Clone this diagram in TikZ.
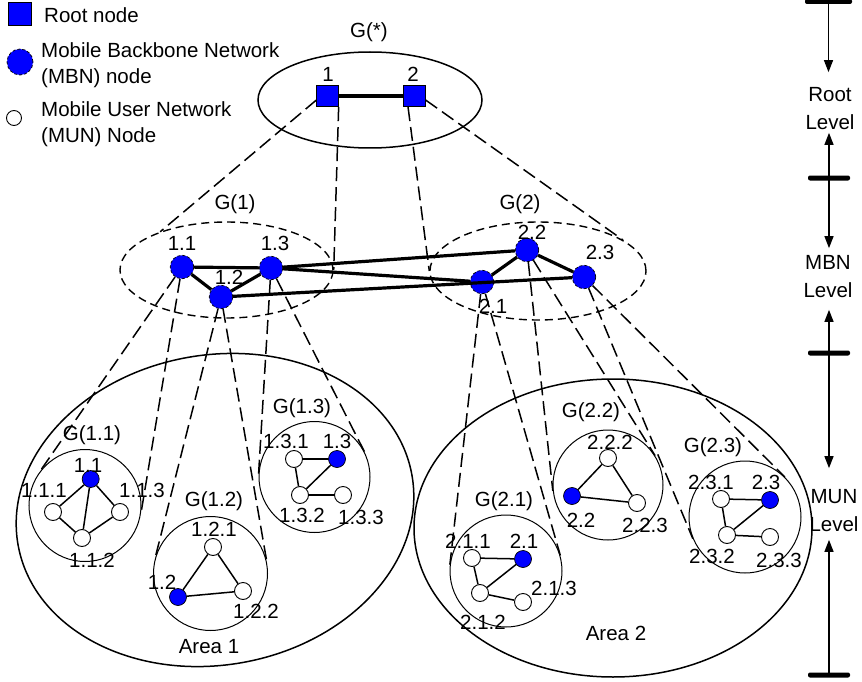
\documentclass[tikz,border=0pt]{standalone}
\usepackage{fontspec}
\setmainfont{Liberation Sans}
\usepackage{tikz}
\usetikzlibrary{shapes.geometric, arrows.meta, calc}
\tikzstyle{lbl} = [inner sep=0pt, font=\fontsize{20.5}{26}\selectfont]
\tikzstyle{lvl} = [inner sep=0pt, align=center, font=\fontsize{20.5}{28}\selectfont]
\tikzstyle{rootnode} = [draw, fill=blue, minimum size=21.5pt, inner sep=0pt, line width=0.8pt]
\tikzstyle{mbn} = [circle, draw, densely dashed, fill=blue, minimum size=23.5pt,
    inner sep=0pt, line width=0.7pt]
\tikzstyle{bnode} = [circle, draw, fill=blue, minimum size=17pt, inner sep=0pt, line width=0.7pt]
\tikzstyle{unode} = [circle, draw, fill=white, minimum size=17pt, inner sep=0pt, line width=0.9pt]
\tikzstyle{group} = [ellipse, draw, dash pattern=on 8pt off 5pt, line width=1.4pt, inner sep=0pt]
\tikzstyle{region} = [ellipse, draw, line width=1.5pt, inner sep=0pt]
\tikzstyle{local} = [circle, draw, line width=1pt, inner sep=0pt]
\tikzstyle{cone} = [dash pattern=on 14pt off 6pt, line width=1.5pt]
\tikzstyle{bbl} = [line width=3.2pt]
\tikzstyle{ubl} = [line width=1.5pt]
\tikzstyle{levelbar} = [fill, rounded corners=2pt, minimum width=42pt, minimum height=5pt, inner sep=0pt]
\tikzstyle{lvarr} = [-{Triangle[length=12pt, width=9pt]}, line width=1.3pt]

\begin{document}
\begin{tikzpicture}[x=1pt, y=-1pt]
  \useasboundingbox (0,0) rectangle (862,682);

  % Legend
  \node[rootnode, minimum size=23pt] (keyroot) at (19.5,14) {};
  \node[lbl, anchor=west] (keyroottxt) at (44,15.5) {Root node};
  \node[mbn, minimum size=26pt] (keymbn) at (20,62) {};
  \node[lbl, anchor=west, align=left] (keymbntxt) at (41,65.5) {Mobile Backbone Network\\(MBN) node};
  \node[unode, minimum size=15pt] (keymun) at (14,118) {};
  \node[lbl, anchor=west, align=left] (keymuntxt) at (41,124) {Mobile User Network\\(MUN) Node};

  % Areas
  \node[region, rotate=10, minimum width=400pt, minimum height=310pt] (area1) at (215,510) {};
  \node[region, minimum width=398pt, minimum height=298pt] (area2) at (613,528) {};
  \node[lbl] (area1lbl) at (209,647) {Area 1};
  \node[lbl] (area2lbl) at (616,633) {Area 2};

  % Root level
  \node[region, minimum width=224pt, minimum height=96pt] (gstar) at (370,100) {};
  \node[lbl] (gstarlbl) at (369,32) {G(*)};
  \node[rootnode] (r1) at (327.5,96) {};
  \node[rootnode] (r2) at (414.5,96) {};
  \node[lbl] (r1lbl) at (328,74) {1};
  \node[lbl] (r2lbl) at (413,74) {2};
  \draw[bbl] (r1) -- (r2);

  % MBN level
  \node[group, minimum width=213pt, minimum height=96pt] (g1) at (226.5,270) {};
  \node[group, minimum width=216pt, minimum height=98pt] (g2) at (538,271) {};
  \node[lbl] (g1lbl) at (235,204) {G(1)};
  \node[lbl] (g2lbl) at (520,204) {G(2)};
  \node[mbn] (m11) at (182,267) {};
  \node[mbn] (m12) at (221,297) {};
  \node[mbn] (m13) at (271,268) {};
  \node[mbn] (m21) at (482,282) {};
  \node[mbn] (m22) at (527,250) {};
  \node[mbn] (m23) at (584,277) {};
  \node[lbl] (m11lbl) at (182,243) {1.1};
  \node[lbl] (m12lbl) at (229,277) {1.2};
  \node[lbl] (m13lbl) at (275,243) {1.3};
  \node[lbl] (m21lbl) at (493,306) {2.1};
  \node[lbl] (m22lbl) at (532,232) {2.2};
  \node[lbl] (m23lbl) at (600,252) {2.3};

  % Root to MBN groups
  \draw[cone] (r1.200) -- (g1.150);
  \draw[cone] (r1.south east) -- (g1.east);
  \draw[cone] (r2.240) -- (g2.west);
  \draw[cone] (r2.340) -- (g2.20);

  % Backbone links
  \draw[bbl] (m11) -- (m13);
  \draw[bbl] (m11) -- (m12);
  \draw[bbl] (m12) -- (m13);
  \draw[bbl] (m13) -- (m22);
  \draw[bbl] (m13) -- (m21);
  \draw[bbl] (m12) -- (m23);
  \draw[bbl] (m21) -- (m22);
  \draw[bbl] (m22) -- (m23);

  % MUN level: local graphs
  \node[local, minimum size=112pt] (g11) at (85,505.5) {};
  \node[local, minimum size=114pt] (g12) at (210.5,573.5) {};
  \node[local, minimum size=111pt] (g13) at (314.5,477) {};
  \node[local, minimum size=112pt] (g21) at (506,571) {};
  \node[local, minimum size=110pt] (g22) at (608,485) {};
  \node[local, minimum size=112pt] (g23) at (745,517) {};
  \node[lbl] (g11lbl) at (92,435) {G(1.1)};
  \node[lbl] (g12lbl) at (214,501) {G(1.2)};
  \node[lbl] (g13lbl) at (302,408) {G(1.3)};
  \node[lbl] (g21lbl) at (504,501) {G(2.1)};
  \node[lbl] (g22lbl) at (591,412) {G(2.2)};
  \node[lbl] (g23lbl) at (713,447) {G(2.3)};

  % MBN nodes to their local graphs
  \draw[cone] (m11) -- (tangent cs:node=g11, point={(m11)}, solution=1);
  \draw[cone] (m11) -- (tangent cs:node=g11, point={(m11)}, solution=2);
  \draw[cone] (m12) -- (tangent cs:node=g12, point={(m12)}, solution=1);
  \draw[cone] (m12) -- (tangent cs:node=g12, point={(m12)}, solution=2);
  \draw[cone] (m13) -- (tangent cs:node=g13, point={(m13)}, solution=1);
  \draw[cone] (m13) -- (tangent cs:node=g13, point={(m13)}, solution=2);
  \draw[cone] (m21) -- (tangent cs:node=g21, point={(m21)}, solution=1);
  \draw[cone] (m21) -- (tangent cs:node=g21, point={(m21)}, solution=2);
  \draw[cone] (m22) -- (tangent cs:node=g22, point={(m22)}, solution=1);
  \draw[cone] (m22) -- (tangent cs:node=g22, point={(m22)}, solution=2);
  \draw[cone] (m23) -- (tangent cs:node=g23, point={(m23)}, solution=1);
  \draw[cone] (m23) -- (tangent cs:node=g23, point={(m23)}, solution=2);

  % G(1.1)
  \node[bnode] (s11) at (90.7,479) {};
  \node[unode] (s111) at (53,512) {};
  \node[unode] (s113) at (120,512) {};
  \node[unode] (s112) at (82,538) {};
  \draw[ubl] (s11) -- (s111);
  \draw[ubl] (s11) -- (s113);
  \draw[ubl] (s11) -- (s112);
  \draw[ubl] (s111) -- (s112);
  \draw[ubl] (s113) -- (s112);
  \node[lbl] (s11lbl) at (88,465) {1.1};
  \node[lbl] (s111lbl) at (44,490) {1.1.1};
  \node[lbl] (s113lbl) at (142,490) {1.1.3};
  \node[lbl] (s112lbl) at (92,560) {1.1.2};

  % G(1.2)
  \node[bnode] (s12) at (178,597) {};
  \node[unode] (s121) at (213,547) {};
  \node[unode] (s122) at (243,591) {};
  \draw[ubl] (s121) -- (s12);
  \draw[ubl] (s121) -- (s122);
  \draw[ubl] (s12) -- (s122);
  \node[lbl] (s12lbl) at (162,582) {1.2};
  \node[lbl] (s121lbl) at (214,529) {1.2.1};
  \node[lbl] (s122lbl) at (256,611) {1.2.2};

  % G(1.3)
  \node[bnode] (s13) at (337,459) {};
  \node[unode] (s131) at (294,459) {};
  \node[unode] (s132) at (300,495) {};
  \node[unode] (s133) at (343,495) {};
  \draw[ubl] (s131) -- (s13);
  \draw[ubl] (s131) -- (s132);
  \draw[ubl] (s132) -- (s13);
  \draw[ubl] (s132) -- (s133);
  \node[lbl] (s13lbl) at (337,441) {1.3};
  \node[lbl] (s131lbl) at (286,441) {1.3.1};
  \node[lbl] (s132lbl) at (302,515) {1.3.2};
  \node[lbl] (s133lbl) at (361,517) {1.3.3};

  % G(2.1)
  \node[bnode] (s21) at (523,559) {};
  \node[unode] (s211) at (472,558) {};
  \node[unode] (s212) at (480,593) {};
  \node[unode] (s213) at (523,602) {};
  \draw[ubl] (s211) -- (s21);
  \draw[ubl] (s211) -- (s212);
  \draw[ubl] (s212) -- (s21);
  \draw[ubl] (s212) -- (s213);
  \node[lbl] (s21lbl) at (524,541) {2.1};
  \node[lbl] (s211lbl) at (468,541) {2.1.1};
  \node[lbl] (s212lbl) at (483,622) {2.1.2};
  \node[lbl] (s213lbl) at (554,588) {2.1.3};

  % G(2.2)
  \node[bnode] (s22) at (572,496) {};
  \node[unode] (s222) at (608,458) {};
  \node[unode] (s223) at (637,503) {};
  \draw[ubl] (s222) -- (s22);
  \draw[ubl] (s222) -- (s223);
  \draw[ubl] (s22) -- (s223);
  \node[lbl] (s22lbl) at (581,520) {2.2};
  \node[lbl] (s222lbl) at (610,442) {2.2.2};
  \node[lbl] (s223lbl) at (645,525) {2.2.3};

  % G(2.3)
  \node[bnode] (s23) at (770,500) {};
  \node[unode] (s231) at (721,499) {};
  \node[unode] (s232) at (727,535) {};
  \node[unode] (s233) at (770,537) {};
  \draw[ubl] (s231) -- (s23);
  \draw[ubl] (s231) -- (s232);
  \draw[ubl] (s232) -- (s23);
  \draw[ubl] (s232) -- (s233);
  \node[lbl] (s23lbl) at (766,482) {2.3};
  \node[lbl] (s231lbl) at (711,482) {2.3.1};
  \node[lbl] (s232lbl) at (712,556) {2.3.2};
  \node[lbl] (s233lbl) at (779,560) {2.3.3};

  % Level scale
  \node[levelbar, minimum width=47pt] (bar0) at (828.5,1.5) {};
  \node[levelbar] (bar1) at (829,178) {};
  \node[levelbar] (bar2) at (829,353) {};
  \node[levelbar] (bar3) at (829,675) {};
  \node[lvl] (lvroot) at (830,109) {Root\\Level};
  \node[lvl] (lvmbn) at (828,276.5) {MBN\\Level};
  \node[lvl] (lvmun) at (834,511) {MUN\\Level};
  \draw[lvarr, shorten >=15.5pt] (bar0.center) -- (bar0.center |- lvroot.north);
  \draw[lvarr, shorten >=2.5pt] (bar1.center) -- (bar1.center |- lvroot.south);
  \draw[lvarr, shorten >=7pt] (bar1.center) -- (bar1.center |- lvmbn.north);
  \draw[lvarr, shorten >=12pt] (bar2.center) -- (bar2.center |- lvmbn.south);
  \draw[lvarr, shorten >=21.5pt] (bar2.center) -- (bar2.center |- lvmun.north);
  \draw[lvarr, shorten >=7.5pt] (bar3.center) -- (bar3.center |- lvmun.south);
\end{tikzpicture}
\end{document}
